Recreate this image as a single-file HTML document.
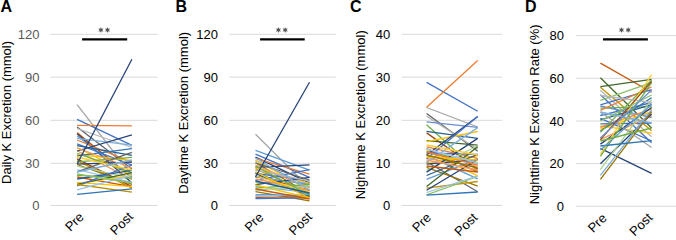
<!DOCTYPE html><html><head><meta charset="utf-8"><style>html,body{margin:0;padding:0;background:#fff;}svg{display:block}text{font-family:"Liberation Sans", sans-serif;}</style></head><body>
<svg width="676" height="237" viewBox="0 0 676 237">
<rect width="676" height="237" fill="#fff"/>
<line x1="50.4" x2="157.7" y1="205.5" y2="205.5" stroke="#d9d9d9" stroke-width="1"/>
<text x="39.5" y="210.35" font-size="13" text-anchor="end" fill="#595959">0</text>
<line x1="50.4" x2="157.7" y1="163.3" y2="163.3" stroke="#d9d9d9" stroke-width="1"/>
<text x="39.5" y="167.50" font-size="13" text-anchor="end" fill="#595959">30</text>
<line x1="50.4" x2="157.7" y1="120.3" y2="120.3" stroke="#d9d9d9" stroke-width="1"/>
<text x="39.5" y="124.65" font-size="13" text-anchor="end" fill="#595959">60</text>
<line x1="50.4" x2="157.7" y1="77.1" y2="77.1" stroke="#d9d9d9" stroke-width="1"/>
<text x="39.5" y="81.80" font-size="13" text-anchor="end" fill="#595959">90</text>
<line x1="50.4" x2="157.7" y1="34.3" y2="34.3" stroke="#d9d9d9" stroke-width="1"/>
<text x="39.5" y="38.95" font-size="13" text-anchor="end" fill="#595959">120</text>
<text x="0.5" y="12.1" font-size="16" font-weight="bold" fill="#000">A</text>
<text transform="translate(5.9,112.45) rotate(-90)" x="0" y="4.6" font-size="13" text-anchor="middle" fill="#000">Daily K Excretion (mmol)</text>
<text transform="translate(84.7,217.8) rotate(-45)" font-size="13" text-anchor="end" fill="#000">Pre</text>
<text transform="translate(133.9,217.4) rotate(-45)" font-size="13" text-anchor="end" fill="#000">Post</text>
<g stroke-width="1.3"><line x1="77.1" y1="104.7" x2="131.9" y2="175.5" stroke="#A5A5A5"/><line x1="77.1" y1="119.3" x2="131.9" y2="145.4" stroke="#4472C4"/><line x1="77.1" y1="125.4" x2="131.9" y2="125.9" stroke="#ED7D31"/><line x1="77.1" y1="127" x2="131.9" y2="169.1" stroke="#636363"/><line x1="77.1" y1="128.5" x2="131.9" y2="147.5" stroke="#B7B7B7"/><line x1="77.1" y1="133.8" x2="131.9" y2="183" stroke="#264478"/><line x1="77.1" y1="132.7" x2="131.9" y2="177.6" stroke="#9E480E"/><line x1="77.1" y1="136" x2="131.9" y2="177.5" stroke="#5B9BD5"/><line x1="77.1" y1="138.3" x2="131.9" y2="145.1" stroke="#7CAFDD"/><line x1="77.1" y1="140" x2="131.9" y2="162.3" stroke="#ED7D31"/><line x1="77.1" y1="143.9" x2="131.9" y2="165.2" stroke="#4472C4"/><line x1="77.1" y1="145.7" x2="131.9" y2="155.3" stroke="#255E91"/><line x1="77.1" y1="147.5" x2="131.9" y2="175.3" stroke="#FFC000"/><line x1="77.1" y1="150.7" x2="131.9" y2="179.6" stroke="#F1975A"/><line x1="77.1" y1="151" x2="131.9" y2="134.9" stroke="#264478"/><line x1="77.1" y1="153.3" x2="131.9" y2="172.6" stroke="#70AD47"/><line x1="77.1" y1="154.4" x2="131.9" y2="160.6" stroke="#FFC000"/><line x1="77.1" y1="155.9" x2="131.9" y2="148.6" stroke="#2E75B6"/><line x1="77.1" y1="158.9" x2="131.9" y2="186.7" stroke="#9E480E"/><line x1="77.1" y1="160.6" x2="131.9" y2="188.1" stroke="#BF9000"/><line x1="77.1" y1="161.8" x2="131.9" y2="157.4" stroke="#70AD47"/><line x1="77.1" y1="164.1" x2="131.9" y2="162.1" stroke="#264478"/><line x1="77.1" y1="164.5" x2="131.9" y2="184.4" stroke="#997300"/><line x1="77.1" y1="166.1" x2="131.9" y2="178.1" stroke="#A9D18E"/><line x1="77.1" y1="169.7" x2="131.9" y2="182.3" stroke="#9DC3E6"/><line x1="77.1" y1="171.8" x2="131.9" y2="152.4" stroke="#636363"/><line x1="77.1" y1="175.3" x2="131.9" y2="178.1" stroke="#70AD47"/><line x1="77.1" y1="177" x2="131.9" y2="186.7" stroke="#C55A11"/><line x1="77.1" y1="179" x2="131.9" y2="170.3" stroke="#255E91"/><line x1="77.1" y1="182.3" x2="131.9" y2="186.7" stroke="#FFC000"/><line x1="77.1" y1="183.5" x2="131.9" y2="175.3" stroke="#FFCD33"/><line x1="77.1" y1="184.4" x2="131.9" y2="172.6" stroke="#43682B"/><line x1="77.1" y1="185.8" x2="131.9" y2="165.2" stroke="#4472C4"/><line x1="77.1" y1="184.5" x2="131.9" y2="192.1" stroke="#BF9000"/><line x1="77.1" y1="189.9" x2="131.9" y2="175.1" stroke="#9DC3E6"/><line x1="77.1" y1="194.3" x2="131.9" y2="188.9" stroke="#2E75B6"/><line x1="77.1" y1="148" x2="131.9" y2="168" stroke="#F1975A"/><line x1="77.1" y1="157" x2="131.9" y2="170" stroke="#FFCD33"/><line x1="77.1" y1="172" x2="131.9" y2="160" stroke="#7CAFDD"/><line x1="77.1" y1="174" x2="131.9" y2="183" stroke="#8CC168"/><line x1="77.1" y1="164" x2="131.9" y2="59.2" stroke="#264478"/></g>
<line x1="82.1" x2="127.2" y1="39.4" y2="39.4" stroke="#000" stroke-width="2.4"/>
<polygon points="100.90,26.90 100.23,28.83 98.22,28.45 99.55,30.00 98.22,31.55 100.23,31.17 100.90,33.10 101.58,31.17 103.58,31.55 102.25,30.00 103.58,28.45 101.58,28.83" fill="#555"/>
<polygon points="107.50,26.90 106.83,28.83 104.82,28.45 106.15,30.00 104.82,31.55 106.83,31.17 107.50,33.10 108.17,31.17 110.18,31.55 108.85,30.00 110.18,28.45 108.17,28.83" fill="#555"/>
<line x1="229.2" x2="335.7" y1="205.5" y2="205.5" stroke="#d9d9d9" stroke-width="1"/>
<text x="218" y="210.35" font-size="13" text-anchor="end" fill="#000">0</text>
<line x1="229.2" x2="335.7" y1="163.3" y2="163.3" stroke="#d9d9d9" stroke-width="1"/>
<text x="218" y="167.50" font-size="13" text-anchor="end" fill="#000">30</text>
<line x1="229.2" x2="335.7" y1="120.3" y2="120.3" stroke="#d9d9d9" stroke-width="1"/>
<text x="218" y="124.65" font-size="13" text-anchor="end" fill="#000">60</text>
<line x1="229.2" x2="335.7" y1="77.1" y2="77.1" stroke="#d9d9d9" stroke-width="1"/>
<text x="218" y="81.80" font-size="13" text-anchor="end" fill="#000">90</text>
<line x1="229.2" x2="335.7" y1="34.3" y2="34.3" stroke="#d9d9d9" stroke-width="1"/>
<text x="218" y="38.95" font-size="13" text-anchor="end" fill="#000">120</text>
<text x="175.5" y="12.1" font-size="16" font-weight="bold" fill="#000">B</text>
<text transform="translate(183.5,112.8) rotate(-90)" x="0" y="4.6" font-size="13" text-anchor="middle" fill="#000">Daytime K Excretion (mmol)</text>
<text transform="translate(264.3,218.1) rotate(-45)" font-size="13" text-anchor="end" fill="#000">Pre</text>
<text transform="translate(312.7,217.7) rotate(-45)" font-size="13" text-anchor="end" fill="#000">Post</text>
<g stroke-width="1.3"><line x1="255.5" y1="134.2" x2="309.5" y2="188" stroke="#A5A5A5"/><line x1="255.5" y1="150.4" x2="309.5" y2="170.1" stroke="#5B9BD5"/><line x1="255.5" y1="154.2" x2="309.5" y2="177.4" stroke="#4472C4"/><line x1="255.5" y1="157.2" x2="309.5" y2="183.2" stroke="#264478"/><line x1="255.5" y1="158.4" x2="309.5" y2="174.1" stroke="#ED7D31"/><line x1="255.5" y1="160.7" x2="309.5" y2="186.7" stroke="#7CAFDD"/><line x1="255.5" y1="160.3" x2="309.5" y2="190.3" stroke="#FFC000"/><line x1="255.5" y1="162.7" x2="309.5" y2="193.8" stroke="#997300"/><line x1="255.5" y1="167.4" x2="309.5" y2="164.8" stroke="#264478"/><line x1="255.5" y1="167.7" x2="309.5" y2="183.3" stroke="#FFC000"/><line x1="255.5" y1="168.9" x2="309.5" y2="192.7" stroke="#BF9000"/><line x1="255.5" y1="171.8" x2="309.5" y2="195.3" stroke="#70AD47"/><line x1="255.5" y1="173.3" x2="309.5" y2="180.9" stroke="#4472C4"/><line x1="255.5" y1="173.5" x2="309.5" y2="196.7" stroke="#264478"/><line x1="255.5" y1="175.8" x2="309.5" y2="190.3" stroke="#9E480E"/><line x1="255.5" y1="177" x2="309.5" y2="184.4" stroke="#5B9BD5"/><line x1="255.5" y1="180.3" x2="309.5" y2="169.6" stroke="#4472C4"/><line x1="255.5" y1="182.4" x2="309.5" y2="186.7" stroke="#8CC168"/><line x1="255.5" y1="184.7" x2="309.5" y2="177.4" stroke="#264478"/><line x1="255.5" y1="186.4" x2="309.5" y2="192.7" stroke="#7CAFDD"/><line x1="255.5" y1="188.1" x2="309.5" y2="184.4" stroke="#70AD47"/><line x1="255.5" y1="191.7" x2="309.5" y2="200.9" stroke="#997300"/><line x1="255.5" y1="194.9" x2="309.5" y2="195.3" stroke="#2E75B6"/><line x1="255.5" y1="196.1" x2="309.5" y2="193.8" stroke="#9DC3E6"/><line x1="255.5" y1="197.3" x2="309.5" y2="196.7" stroke="#C55A11"/><line x1="255.5" y1="198.5" x2="309.5" y2="197.9" stroke="#4472C4"/><line x1="255.5" y1="165" x2="309.5" y2="188" stroke="#F1975A"/><line x1="255.5" y1="170" x2="309.5" y2="181" stroke="#B7B7B7"/><line x1="255.5" y1="179" x2="309.5" y2="190" stroke="#F1975A"/><line x1="255.5" y1="185" x2="309.5" y2="197.9" stroke="#FFC000"/><line x1="255.5" y1="190" x2="309.5" y2="186" stroke="#A9D18E"/><line x1="255.5" y1="163" x2="309.5" y2="180" stroke="#636363"/><line x1="255.5" y1="176" x2="309.5" y2="192" stroke="#FFCD33"/><line x1="255.5" y1="158" x2="309.5" y2="190" stroke="#7CAFDD"/><line x1="255.5" y1="166" x2="309.5" y2="195" stroke="#70AD47"/><line x1="255.5" y1="172" x2="309.5" y2="198" stroke="#FFC000"/><line x1="255.5" y1="181" x2="309.5" y2="193" stroke="#255E91"/><line x1="255.5" y1="189" x2="309.5" y2="199" stroke="#C55A11"/><line x1="255.5" y1="177" x2="309.5" y2="82.2" stroke="#264478"/></g>
<line x1="260.1" x2="304.7" y1="39.4" y2="39.4" stroke="#000" stroke-width="2.4"/>
<polygon points="278.40,26.90 277.72,28.83 275.72,28.45 277.05,30.00 275.72,31.55 277.72,31.17 278.40,33.10 279.07,31.17 281.08,31.55 279.75,30.00 281.08,28.45 279.07,28.83" fill="#555"/>
<polygon points="285.20,26.90 284.52,28.83 282.52,28.45 283.85,30.00 282.52,31.55 284.52,31.17 285.20,33.10 285.88,31.17 287.88,31.55 286.55,30.00 287.88,28.45 285.88,28.83" fill="#555"/>
<line x1="401.8" x2="502" y1="205.5" y2="205.5" stroke="#d9d9d9" stroke-width="1"/>
<text x="390.3" y="210.35" font-size="13" text-anchor="end" fill="#000">0</text>
<line x1="401.8" x2="502" y1="163.3" y2="163.3" stroke="#d9d9d9" stroke-width="1"/>
<text x="390.3" y="167.50" font-size="13" text-anchor="end" fill="#000">10</text>
<line x1="401.8" x2="502" y1="120.3" y2="120.3" stroke="#d9d9d9" stroke-width="1"/>
<text x="390.3" y="124.65" font-size="13" text-anchor="end" fill="#000">20</text>
<line x1="401.8" x2="502" y1="77.1" y2="77.1" stroke="#d9d9d9" stroke-width="1"/>
<text x="390.3" y="81.80" font-size="13" text-anchor="end" fill="#000">30</text>
<line x1="401.8" x2="502" y1="34.3" y2="34.3" stroke="#d9d9d9" stroke-width="1"/>
<text x="390.3" y="38.95" font-size="13" text-anchor="end" fill="#000">40</text>
<text x="350" y="12.1" font-size="16" font-weight="bold" fill="#000">C</text>
<text transform="translate(360.2,114.8) rotate(-90)" x="0" y="4.6" font-size="13" text-anchor="middle" fill="#000">Nighttime K Excretion (mmol)</text>
<text transform="translate(431.85,218.5) rotate(-45)" font-size="13" text-anchor="end" fill="#000">Pre</text>
<text transform="translate(478.25,218.4) rotate(-45)" font-size="13" text-anchor="end" fill="#000">Post</text>
<g stroke-width="1.3"><line x1="426.6" y1="82.4" x2="477.7" y2="111.3" stroke="#4472C4"/><line x1="426.6" y1="107.3" x2="477.7" y2="60.4" stroke="#ED7D31"/><line x1="426.6" y1="107.5" x2="477.7" y2="127" stroke="#A5A5A5"/><line x1="426.6" y1="113.5" x2="477.7" y2="151.3" stroke="#636363"/><line x1="426.6" y1="116.1" x2="477.7" y2="149.3" stroke="#B7B7B7"/><line x1="426.6" y1="121.8" x2="477.7" y2="127.3" stroke="#698ED0"/><line x1="426.6" y1="124.7" x2="477.7" y2="171" stroke="#70AD47"/><line x1="426.6" y1="131.4" x2="477.7" y2="138.4" stroke="#255E91"/><line x1="426.6" y1="132.9" x2="477.7" y2="169" stroke="#9E480E"/><line x1="426.6" y1="140.7" x2="477.7" y2="145.2" stroke="#43682B"/><line x1="426.6" y1="141.6" x2="477.7" y2="131.5" stroke="#FFC000"/><line x1="426.6" y1="146.9" x2="477.7" y2="158.3" stroke="#ED7D31"/><line x1="426.6" y1="148.6" x2="477.7" y2="171.8" stroke="#C55A11"/><line x1="426.6" y1="150.7" x2="477.7" y2="175.9" stroke="#FFC000"/><line x1="426.6" y1="151.5" x2="477.7" y2="163" stroke="#70AD47"/><line x1="426.6" y1="153" x2="477.7" y2="154.3" stroke="#4472C4"/><line x1="426.6" y1="155.4" x2="477.7" y2="178.9" stroke="#5B9BD5"/><line x1="426.6" y1="155" x2="477.7" y2="116.5" stroke="#264478"/><line x1="426.6" y1="158.4" x2="477.7" y2="166.3" stroke="#F1975A"/><line x1="426.6" y1="158.7" x2="477.7" y2="116.5" stroke="#4472C4"/><line x1="426.6" y1="161.7" x2="477.7" y2="191.8" stroke="#636363"/><line x1="426.6" y1="162.4" x2="477.7" y2="127.6" stroke="#7CAFDD"/><line x1="426.6" y1="163.5" x2="477.7" y2="155.8" stroke="#FFCD33"/><line x1="426.6" y1="164.1" x2="477.7" y2="159.5" stroke="#264478"/><line x1="426.6" y1="167.4" x2="477.7" y2="186.1" stroke="#997300"/><line x1="426.6" y1="170.4" x2="477.7" y2="146" stroke="#A9D18E"/><line x1="426.6" y1="172.1" x2="477.7" y2="138.4" stroke="#264478"/><line x1="426.6" y1="175.5" x2="477.7" y2="154.3" stroke="#255E91"/><line x1="426.6" y1="179.4" x2="477.7" y2="159" stroke="#5B9BD5"/><line x1="426.6" y1="188.1" x2="477.7" y2="181.5" stroke="#BF9000"/><line x1="426.6" y1="190.2" x2="477.7" y2="159.5" stroke="#264478"/><line x1="426.6" y1="186.5" x2="477.7" y2="146.8" stroke="#43682B"/><line x1="426.6" y1="194.8" x2="477.7" y2="176.5" stroke="#8CC168"/><line x1="426.6" y1="192.5" x2="477.7" y2="175.9" stroke="#9DC3E6"/><line x1="426.6" y1="195.2" x2="477.7" y2="192" stroke="#2E75B6"/><line x1="426.6" y1="152" x2="477.7" y2="165" stroke="#ED7D31"/><line x1="426.6" y1="157" x2="477.7" y2="160" stroke="#FFC000"/><line x1="426.6" y1="160" x2="477.7" y2="170" stroke="#F1975A"/><line x1="426.6" y1="145" x2="477.7" y2="155" stroke="#FFCD33"/><line x1="426.6" y1="166" x2="477.7" y2="172" stroke="#C55A11"/><line x1="426.6" y1="149" x2="477.7" y2="163" stroke="#9DC3E6"/><line x1="426.6" y1="155" x2="477.7" y2="168" stroke="#997300"/></g>
<line x1="576" x2="676" y1="206.2" y2="206.2" stroke="#d9d9d9" stroke-width="1"/>
<text x="564" y="210.95" font-size="13" text-anchor="end" fill="#000">0</text>
<line x1="576" x2="676" y1="163.6" y2="163.6" stroke="#d9d9d9" stroke-width="1"/>
<text x="564" y="168.30" font-size="13" text-anchor="end" fill="#000">20</text>
<line x1="576" x2="676" y1="121.0" y2="121.0" stroke="#d9d9d9" stroke-width="1"/>
<text x="564" y="125.65" font-size="13" text-anchor="end" fill="#000">40</text>
<line x1="576" x2="676" y1="78.3" y2="78.3" stroke="#d9d9d9" stroke-width="1"/>
<text x="564" y="83.00" font-size="13" text-anchor="end" fill="#000">60</text>
<line x1="576" x2="676" y1="35.6" y2="35.6" stroke="#d9d9d9" stroke-width="1"/>
<text x="564" y="40.35" font-size="13" text-anchor="end" fill="#000">80</text>
<text x="525" y="12.1" font-size="16" font-weight="bold" fill="#000">D</text>
<text transform="translate(534.4,114.35) rotate(-90)" x="0" y="4.6" font-size="13" text-anchor="middle" fill="#000">Nighttime K Excretion Rate (%)</text>
<text transform="translate(607.5,219) rotate(-45)" font-size="13" text-anchor="end" fill="#000">Pre</text>
<text transform="translate(653.2,218.4) rotate(-45)" font-size="13" text-anchor="end" fill="#000">Post</text>
<g stroke-width="1.3"><line x1="600.4" y1="63.1" x2="651.6" y2="92.3" stroke="#C55A11"/><line x1="600.4" y1="77.7" x2="651.6" y2="128" stroke="#43682B"/><line x1="600.4" y1="87.3" x2="651.6" y2="130.7" stroke="#BF9000"/><line x1="600.4" y1="86.7" x2="651.6" y2="79.4" stroke="#43682B"/><line x1="600.4" y1="90.2" x2="651.6" y2="136.7" stroke="#B7B7B7"/><line x1="600.4" y1="94.7" x2="651.6" y2="142.7" stroke="#4472C4"/><line x1="600.4" y1="100.4" x2="651.6" y2="82.7" stroke="#8CC168"/><line x1="600.4" y1="104.8" x2="651.6" y2="89.7" stroke="#4472C4"/><line x1="600.4" y1="106" x2="651.6" y2="117.5" stroke="#698ED0"/><line x1="600.4" y1="108.1" x2="651.6" y2="106.7" stroke="#70AD47"/><line x1="600.4" y1="110.4" x2="651.6" y2="87" stroke="#ED7D31"/><line x1="600.4" y1="114.5" x2="651.6" y2="114.2" stroke="#9DC3E6"/><line x1="600.4" y1="115.7" x2="651.6" y2="102.5" stroke="#4472C4"/><line x1="600.4" y1="118.4" x2="651.6" y2="141" stroke="#4472C4"/><line x1="600.4" y1="119.8" x2="651.6" y2="104.6" stroke="#255E91"/><line x1="600.4" y1="123.8" x2="651.6" y2="123" stroke="#4472C4"/><line x1="600.4" y1="125.9" x2="651.6" y2="133.2" stroke="#FFC000"/><line x1="600.4" y1="127.4" x2="651.6" y2="108.9" stroke="#ED7D31"/><line x1="600.4" y1="129.2" x2="651.6" y2="111.6" stroke="#FFC000"/><line x1="600.4" y1="131" x2="651.6" y2="97.8" stroke="#2E75B6"/><line x1="600.4" y1="132.4" x2="651.6" y2="80" stroke="#70AD47"/><line x1="600.4" y1="139.7" x2="651.6" y2="115.7" stroke="#F1975A"/><line x1="600.4" y1="144.1" x2="651.6" y2="107.5" stroke="#264478"/><line x1="600.4" y1="148.4" x2="651.6" y2="173.3" stroke="#264478"/><line x1="600.4" y1="154.4" x2="651.6" y2="74.7" stroke="#FFCD33"/><line x1="600.4" y1="156.4" x2="651.6" y2="82.7" stroke="#70AD47"/><line x1="600.4" y1="163.7" x2="651.6" y2="114" stroke="#264478"/><line x1="600.4" y1="169.6" x2="651.6" y2="99.6" stroke="#A9D18E"/><line x1="600.4" y1="175.4" x2="651.6" y2="110" stroke="#7CAFDD"/><line x1="600.4" y1="179.4" x2="651.6" y2="111.6" stroke="#997300"/><line x1="600.4" y1="112" x2="651.6" y2="147.5" stroke="#A5A5A5"/><line x1="600.4" y1="146" x2="651.6" y2="140.6" stroke="#2E75B6"/><line x1="600.4" y1="95.5" x2="651.6" y2="102.5" stroke="#B7B7B7"/><line x1="600.4" y1="139.6" x2="651.6" y2="81.4" stroke="#9E480E"/><line x1="600.4" y1="112" x2="651.6" y2="123" stroke="#7CAFDD"/><line x1="600.4" y1="121" x2="651.6" y2="95" stroke="#8CC168"/><line x1="600.4" y1="138" x2="651.6" y2="90" stroke="#698ED0"/><line x1="600.4" y1="150" x2="651.6" y2="104.6" stroke="#5B9BD5"/><line x1="600.4" y1="141" x2="651.6" y2="128" stroke="#70AD47"/></g>
<line x1="603" x2="647.9" y1="39.4" y2="39.4" stroke="#000" stroke-width="2.4"/>
<polygon points="621.50,26.90 620.83,28.83 618.82,28.45 620.15,30.00 618.82,31.55 620.83,31.17 621.50,33.10 622.17,31.17 624.18,31.55 622.85,30.00 624.18,28.45 622.17,28.83" fill="#555"/>
<polygon points="628.20,26.90 627.53,28.83 625.52,28.45 626.85,30.00 625.52,31.55 627.53,31.17 628.20,33.10 628.88,31.17 630.88,31.55 629.55,30.00 630.88,28.45 628.88,28.83" fill="#555"/>
</svg></body></html>
